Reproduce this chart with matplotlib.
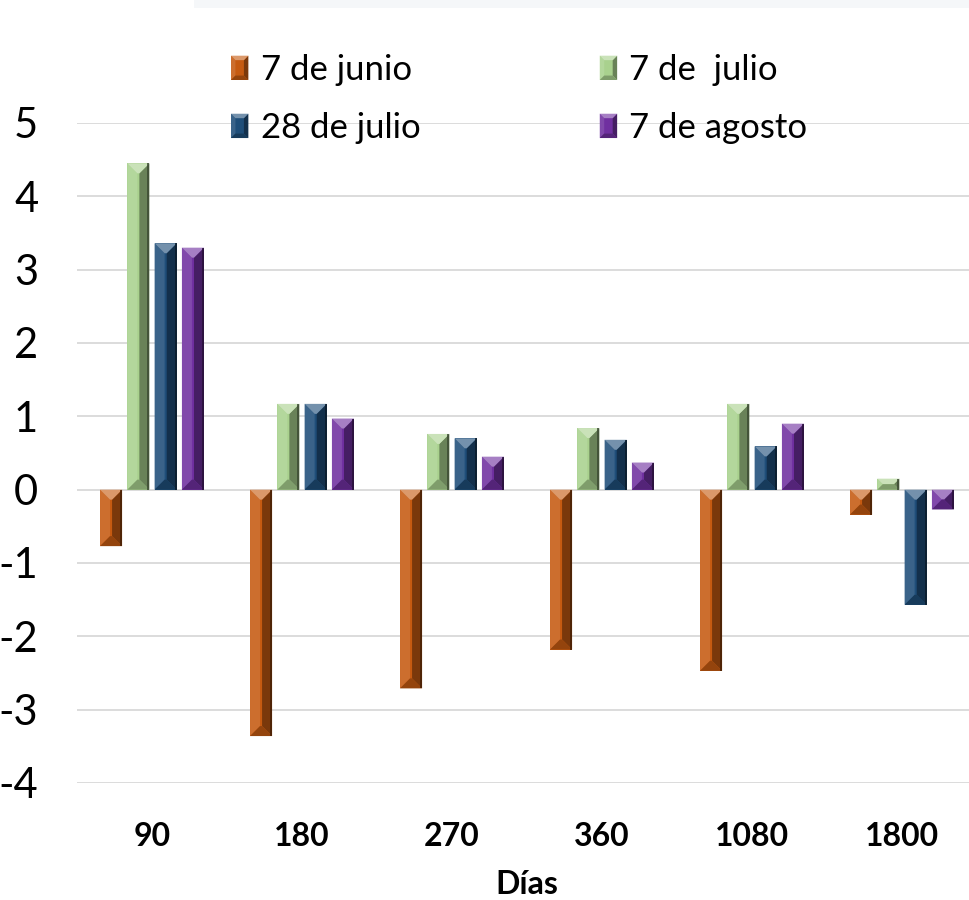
import matplotlib
matplotlib.use("Agg")
import matplotlib.pyplot as plt
import numpy as np
from matplotlib.patches import Polygon, Rectangle
from matplotlib.legend_handler import HandlerBase
from matplotlib.colors import to_rgb

plt.rcParams["font.family"] = ["Lato", "DejaVu Sans"]

# Days to maturity and the change recorded on each date
dias = ["90", "180", "270", "360", "1080", "1800"]
series_labels = ["7 de junio", "7 de  julio", "28 de julio", "7 de agosto"]
junio_7 = [-0.77, -3.36, -2.71, -2.18, -2.47, -0.34]
julio_7 = [4.45, 1.17, 0.76, 0.84, 1.17, 0.15]
julio_28 = [3.36, 1.17, 0.70, 0.68, 0.59, -1.57]
agosto_7 = [3.30, 0.97, 0.45, 0.37, 0.90, -0.27]
series_values = [junio_7, julio_7, julio_28, agosto_7]

colors = ["#C55A11", "#A9D18E", "#1F4E79", "#7030A0"]

W, H, DPI = 9.7, 9.0, 100
fig = plt.figure(figsize=(W, H), dpi=DPI)
fig.patch.set_facecolor("white")

ax_left, ax_right = 77 / 970, 977 / 970
ax_bottom, ax_top = (900 - 783) / 900, (900 - 123) / 900
ax = fig.add_axes([ax_left, ax_bottom, ax_right - ax_left, ax_top - ax_bottom])

# faint band along the top edge
fig.add_artist(Rectangle((0.2, 1 - 8 / 900), 0.8, 8 / 900, transform=fig.transFigure,
                         facecolor="#F5F7F9", edgecolor="none", zorder=0))

x = np.arange(len(dias))
bar_w = 0.147
step = 0.182
offsets = (np.arange(4) - 1.5) * step

ax.set_xlim(-0.5, 5.5)
ax.set_ylim(-4, 5)

# pixels per data unit, used to give the bevels square corners
sx = (ax_right - ax_left) * W * DPI / 6.0
sy = (ax_top - ax_bottom) * H * DPI / 9.0


def mix(c, other, t):
    a, b = to_rgb(c), to_rgb(other)
    return tuple((1 - t) * p + t * q for p, q in zip(a, b))


def bevel_polys(x0, x1, ylo, yhi, d_px, px_x, px_y):
    w_px = (x1 - x0) * px_x
    h_px = (yhi - ylo) * px_y
    d = min(d_px, w_px / 2, h_px / 2)
    dx, dy = d / px_x, d / px_y
    top = [(x0, yhi), (x1, yhi), (x1 - dx, yhi - dy), (x0 + dx, yhi - dy)]
    left = [(x0, yhi), (x0 + dx, yhi - dy), (x0 + dx, ylo + dy), (x0, ylo)]
    right = [(x1, yhi), (x1 - dx, yhi - dy), (x1 - dx, ylo + dy), (x1, ylo)]
    bottom = [(x0, ylo), (x1, ylo), (x1 - dx, ylo + dy), (x0 + dx, ylo + dy)]
    return top, left, right, bottom


def shades(c):
    return {
        "top": mix(c, "white", 0.38),
        "left": mix(c, "white", 0.12),
        "right": mix(c, "black", 0.38),
        "bottom": mix(c, "black", 0.25),
        "edge": mix(c, "black", 0.65),
    }


def add_bevel(x0, x1, ylo, yhi, color, d_px, px_x, px_y, zorder=3):
    sh = shades(color)
    top, left, right, bottom = bevel_polys(x0, x1, ylo, yhi, d_px, px_x, px_y)
    for pts, key in ((left, "left"), (right, "right"), (top, "top"), (bottom, "bottom")):
        ax.add_patch(Polygon(pts, closed=True, facecolor=sh[key], edgecolor="none",
                             zorder=zorder))
    # thin dark strip along the right edge
    ew = 2.0 / px_x
    ax.add_patch(Rectangle((x1 - ew, ylo), ew, yhi - ylo, facecolor=sh["edge"],
                           edgecolor="none", zorder=zorder, alpha=0.8))


for i, (vals, col, lab) in enumerate(zip(series_values, colors, series_labels)):
    bars = ax.bar(x + offsets[i], vals, width=bar_w, color=col, label=lab, zorder=2,
                  linewidth=0)
    for r in bars:
        x0 = r.get_x()
        x1 = x0 + r.get_width()
        y0 = r.get_y()
        y1 = y0 + r.get_height()
        add_bevel(x0, x1, min(y0, y1), max(y0, y1), col, 10, sx, sy)

ax.set_yticks(np.arange(-4, 6, 1))
ax.set_yticklabels([str(v) for v in range(-4, 6)])
ax.set_xticks(x)
ax.set_xticklabels(dias, fontweight="bold")
ax.tick_params(axis="y", length=0, labelsize=30, pad=28, labelcolor="black")
ax.tick_params(axis="x", length=0, labelsize=23, pad=28, labelcolor="black")
ax.grid(axis="y", color="#D9D9D9", linewidth=1.3, zorder=0)
ax.set_axisbelow(True)
for s in ax.spines.values():
    s.set_visible(False)
ax.set_xlabel("Días", fontsize=23, fontweight="bold", labelpad=14)


class BevelHandler(HandlerBase):
    def __init__(self, color):
        super().__init__()
        self.color = color

    def create_artists(self, legend, orig_handle, xdescent, ydescent, width, height,
                       fontsize, trans):
        x0, x1 = -xdescent, -xdescent + width
        y0, y1 = -ydescent, -ydescent + height
        base = Rectangle((x0, y0), width, height, facecolor=self.color, edgecolor="none",
                         transform=trans)
        sh = shades(self.color)
        top, left, right, bottom = bevel_polys(x0, x1, y0, y1, 3.2, 1.0, 1.0)
        arts = [base]
        for pts, key in ((left, "left"), (right, "right"), (top, "top"), (bottom, "bottom")):
            arts.append(Polygon(pts, closed=True, facecolor=sh[key], edgecolor="none",
                                transform=trans))
        return arts


handles = ax.containers
order = [0, 2, 1, 3]
leg = fig.legend([handles[k] for k in order], [series_labels[k] for k in order],
                 handler_map={handles[k]: BevelHandler(colors[k]) for k in range(4)},
                 loc="upper left", bbox_to_anchor=(231 / 970, 1 - 54 / 900), ncol=2,
                 frameon=False, fontsize=25, handlelength=0.5, handleheight=0.7,
                 handletextpad=0.35, columnspacing=5.17, labelspacing=0.75,
                 borderpad=0, borderaxespad=0)

fig.savefig("out.png", dpi=DPI, facecolor="white")
